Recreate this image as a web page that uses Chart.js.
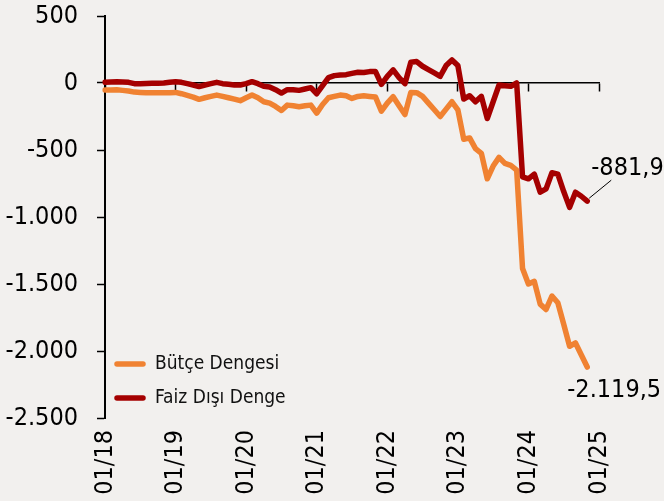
<!DOCTYPE html>
<html>
<head>
<meta charset="utf-8">
<script src="https://cdn.jsdelivr.net/npm/chart.js@4.4.0/dist/chart.umd.min.js"></script>
<style>
html,body{margin:0;padding:0;background:#f2f0ee;}
#wrap{width:664px;height:501px;}
</style>
</head>
<body>
<div id="wrap"><canvas id="c" width="664" height="501"></canvas></div>
<script>
// ---- data ----
const years = ['18','19','20','21','22','23','24'];
const tickLabels = ['01/18','01/19','01/20','01/21','01/22','01/23','01/24','01/25'];
const seriesNames = ['Bütçe Dengesi', 'Faiz Dışı Denge'];
const seriesColors = ['#f08232', '#a50000'];
const yTicks = [500, 0, -500, -1000, -1500, -2000, -2500];

// Bütçe Dengesi (monthly, 01/18 .. 11/24)
const butce = [
  -52, -52, -50, -55, -60, -68, -70, -72, -72, -73, -72, -72,
  -70, -80, -92, -105, -122, -110, -100, -90, -100, -110, -120, -132,
  -110, -90, -110, -140, -150, -175, -205, -165, -170, -177, -170, -165,
  -225, -160, -110, -100, -90, -95, -115, -100, -95, -100, -105, -210,
  -150, -102, -170, -235, -70, -72, -100, -150, -200, -250, -195, -140,
  -200, -420, -410, -490, -525, -715, -620, -555, -600, -615, -650, -1385,
  -1500, -1480, -1650, -1690, -1590, -1640, -1800, -1965, -1940, -2030, -2119.5
];
// Faiz Dışı Denge
const faiz = [
  5, 8, 10, 8, 5, -5, -5, -3, -2, -2, 0, 5,
  10, 5, -5, -15, -27, -15, -5, 5, -5, -10, -15, -15,
  -5, 10, -5, -25, -30, -50, -75, -50, -50, -55, -45, -35,
  -80, -20, 40, 55, 60, 62, 72, 80, 78, 85, 85, -10,
  50, 98, 40, -5, 155, 160, 125, 100, 75, 50, 130, 172,
  130, -120, -95, -140, -100, -265, -140, -15, -20, -25, 0, -700,
  -715, -680, -815, -790, -670, -680, -810, -928, -815, -845, -881.9
];

// monthly categories
const categories = [];
years.forEach(y => { for (let m = 1; m <= 12; m++) categories.push(String(m).padStart(2, '0') + '/' + y); });
categories.push('01/25');

function trNum(v, d) {
  const neg = v < 0;
  const s = Math.abs(v).toFixed(d);
  let [ip, fp] = s.split('.');
  ip = ip.replace(/\B(?=(\d{3})+(?!\d))/g, '.');
  return (neg ? '-' : '') + ip + (fp ? ',' + fp : '');
}

const FONT = "'DejaVu Sans Condensed', 'Liberation Sans', sans-serif";
const BG = '#f2f0ee';

const bgPlugin = {
  id: 'bg',
  beforeDraw(chart) {
    const ctx = chart.ctx;
    ctx.save();
    ctx.fillStyle = BG;
    ctx.fillRect(0, 0, chart.width, chart.height);
    ctx.restore();
  }
};

const legendPlugin = {
  id: 'customLegend',
  afterDraw(chart) {
    const ctx = chart.ctx;
    const a = chart.chartArea;
    const rows = [a.bottom - 54, a.bottom - 20];
    ctx.save();
    chart.data.datasets.forEach((ds, i) => {
      const y = rows[i];
      ctx.strokeStyle = ds.borderColor;
      ctx.lineWidth = 5.5;
      ctx.lineCap = 'round';
      ctx.beginPath();
      ctx.moveTo(a.left + 12, y);
      ctx.lineTo(a.left + 38, y);
      ctx.stroke();
      ctx.fillStyle = '#111';
      ctx.font = "19px " + FONT;
      ctx.textAlign = 'left';
      ctx.textBaseline = 'middle';
      ctx.fillText(ds.label, a.left + 50, y);
    });
    ctx.restore();
  }
};

const endLabelPlugin = {
  id: 'endLabels',
  afterDraw(chart) {
    const ctx = chart.ctx;
    const xs = chart.scales.x, ys = chart.scales.y;
    ctx.save();
    ctx.font = "25px " + FONT;
    ctx.fillStyle = '#000';
    ctx.textBaseline = 'middle';
    ctx.textAlign = 'left';
    // Faiz Dışı Denge
    let li = faiz.length - 1;
    let px = xs.getPixelForValue(li), py = ys.getPixelForValue(faiz[li]);
    ctx.strokeStyle = '#000';
    ctx.lineWidth = 1;
    ctx.beginPath();
    ctx.moveTo(px + 2, py - 3);
    ctx.lineTo(px + 24, py - 21);
    ctx.stroke();
    ctx.fillText(trNum(faiz[li], 1), px + 4, py - 33);
    // Bütçe Dengesi
    li = butce.length - 1;
    px = xs.getPixelForValue(li); py = ys.getPixelForValue(butce[li]);
    ctx.fillText(trNum(butce[li], 1), px - 20, py + 23);
    ctx.restore();
  }
};

new Chart(document.getElementById('c'), {
  type: 'line',
  data: {
    labels: categories,
    datasets: [
      { label: seriesNames[0], data: butce, borderColor: seriesColors[0], backgroundColor: seriesColors[0], order: 1 },
      { label: seriesNames[1], data: faiz, borderColor: seriesColors[1], backgroundColor: seriesColors[1], order: 0 }
    ]
  },
  options: {
    responsive: false,
    animation: false,
    devicePixelRatio: 1,
    layout: { padding: { top: 16, right: 65, bottom: 0, left: 0 } },
    plugins: { legend: { display: false }, tooltip: { enabled: false } },
    elements: {
      point: { radius: 0, hoverRadius: 0 },
      line: { borderWidth: 5.5, tension: 0, borderJoinStyle: 'round', borderCapStyle: 'round', fill: false }
    },
    scales: {
      x: {
        type: 'category',
        position: { y: 0 },
        offset: false,
        grid: {
          drawOnChartArea: false, drawTicks: true, tickLength: 8, tickWidth: 1.5,
          tickColor: ctx => (ctx.index % 12 === 0 ? '#000' : 'rgba(0,0,0,0)')
        },
        border: { display: true, color: '#000', width: 1.5 },
        ticks: { display: false }
      },
      x2: {
        type: 'category',
        position: 'bottom',
        labels: categories,
        offset: false,
        grid: { display: false, drawTicks: false },
        border: { display: false },
        ticks: {
          autoSkip: false, maxRotation: 90, minRotation: 90, padding: 12, color: '#000',
          font: { family: FONT, size: 25 },
          callback: (v, i) => (tickLabels.includes(categories[i]) ? categories[i] : '')
        },
        afterFit: s => { s.height = 83; }
      },
      y: {
        min: -2500, max: 500, position: 'left',
        afterBuildTicks: s => { s.ticks = yTicks.map(v => ({ value: v })); },
        ticks: { padding: 19, color: '#000', font: { family: FONT, size: 25 }, callback: v => trNum(v, 0) },
        grid: { drawOnChartArea: false, drawTicks: true, tickLength: 8, tickColor: '#000', tickWidth: 1.5 },
        border: { display: true, color: '#000', width: 2 },
        afterFit: s => { s.width = 105; s.paddingTop = 0; s.paddingBottom = 0; }
      }
    }
  },
  plugins: [bgPlugin, legendPlugin, endLabelPlugin]
});
</script>
</body>
</html>
